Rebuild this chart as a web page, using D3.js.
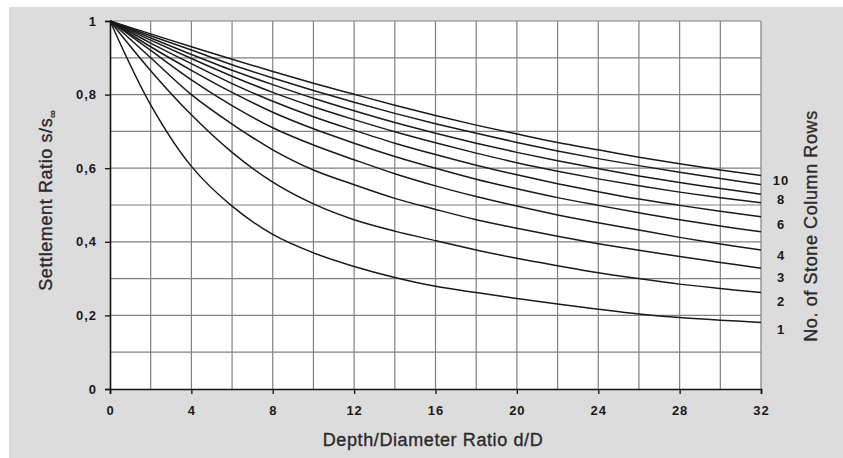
<!DOCTYPE html>
<html><head><meta charset="utf-8">
<script src="https://cdn.jsdelivr.net/npm/d3@7"></script>
<style>body{margin:0;background:#fff}svg{display:block}</style>
</head><body>
<svg id="chart" width="843" height="458"></svg>
<script>
const xValues = [0,2,4,6,8,10,12,14,16,18,20,22,24,26,28,30,32];
const rows1  = [1,0.772,0.605,0.497,0.42,0.37,0.333,0.303,0.279,0.262,0.246,0.231,0.217,0.204,0.194,0.187,0.181];
const rows2  = [1,0.865,0.745,0.643,0.562,0.503,0.46,0.429,0.403,0.378,0.355,0.335,0.316,0.300,0.285,0.273,0.262];
const rows3  = [1,0.90,0.80,0.72,0.65,0.595,0.555,0.518,0.488,0.46,0.437,0.415,0.395,0.377,0.360,0.344,0.328];
const rows4  = [1,0.92,0.84,0.77,0.71,0.663,0.623,0.585,0.552,0.523,0.497,0.473,0.452,0.432,0.412,0.394,0.378];
const rows5  = [1,0.93,0.866,0.806,0.752,0.707,0.668,0.632,0.6,0.57,0.544,0.52,0.499,0.479,0.46,0.443,0.427];
const rows6  = [1,0.94,0.884,0.83,0.782,0.74,0.703,0.668,0.637,0.608,0.582,0.558,0.536,0.516,0.499,0.483,0.468];
const rows7  = [1,0.948,0.898,0.85,0.806,0.767,0.732,0.699,0.669,0.641,0.615,0.592,0.571,0.552,0.535,0.52,0.506];
const rows8  = [1,0.954,0.909,0.866,0.827,0.79,0.756,0.724,0.695,0.668,0.643,0.62,0.599,0.579,0.561,0.545,0.529];
const rows9  = [1,0.96,0.921,0.881,0.845,0.811,0.779,0.749,0.721,0.695,0.67,0.647,0.626,0.607,0.589,0.572,0.556];
const rows10 = [1,0.965,0.93,0.896,0.863,0.831,0.801,0.771,0.743,0.717,0.693,0.67,0.65,0.63,0.612,0.595,0.58];
const seriesList = [rows1,rows2,rows3,rows4,rows5,rows6,rows7,rows8,rows9,rows10];
const xTickValues = [0,4,8,12,16,20,24,28,32];
const yTickValues = [0,0.2,0.4,0.6,0.8,1];
const yTickLabels = ["0","0,2","0,4","0,6","0,8","1"];
const rowLabels = ["10","8","6","4","3","2","1"];
const rowLabelY = [0.568,0.514,0.446,0.362,0.304,0.237,0.163];
const xTitle = "Depth/Diameter Ratio d/D";
const yTitle = "Settlement Ratio s/s";
const rightTitle = "No. of Stone Column Rows";

const svg = d3.select("#chart");
const W = 843, H = 458;
const m = {left:110, top:21, right:761, bottom:389};
svg.append("rect").attr("x",9).attr("y",7).attr("width",W-9).attr("height",H-7).attr("fill","#dcdcdd");

const x = d3.scaleLinear().domain([0,32]).range([m.left,m.right]);
const y = d3.scaleLinear().domain([0,1]).range([m.bottom,m.top]);

svg.append("rect").attr("x",m.left).attr("y",m.top).attr("width",m.right-m.left).attr("height",m.bottom-m.top).attr("fill","#fff");

const g = svg.append("g");
g.selectAll("line.vg").data(d3.range(2,33,2)).join("line")
  .attr("x1",d=>x(d)).attr("x2",d=>x(d)).attr("y1",m.top).attr("y2",m.bottom)
  .attr("stroke","#808080").attr("stroke-width",1.2);
g.selectAll("line.hg").data(d3.range(1,11).map(d=>d/10)).join("line")
  .attr("x1",m.left).attr("x2",m.right).attr("y1",d=>y(d)).attr("y2",d=>y(d))
  .attr("stroke","#808080").attr("stroke-width",1.2);

const tf = "Liberation Sans, Arial, sans-serif";
const xAxis = d3.axisBottom(x).tickValues(xTickValues).tickSize(5).tickPadding(12).tickFormat(d3.format("d"));
const yAxis = d3.axisLeft(y).tickValues(yTickValues).tickSize(5).tickPadding(8).tickFormat((d,i)=>yTickLabels[i]);
const gx = svg.append("g").attr("transform",`translate(0,${m.bottom})`).call(xAxis);
const gy = svg.append("g").attr("transform",`translate(${m.left},0)`).call(yAxis);
[gx,gy].forEach(a=>{
  a.select(".domain").attr("stroke","#111").attr("stroke-width",1.6);
  a.selectAll(".tick line").attr("stroke","#111").attr("stroke-width",1.3);
  a.selectAll(".tick text").attr("fill","#1a1a1a").style("font-family",tf).style("font-size","13px").style("font-weight","bold").style("letter-spacing","1px");
});

const line = d3.line().x((d,i)=>x(xValues[i])).y(d=>y(d)).curve(d3.curveCatmullRom.alpha(0.5));
svg.append("g").selectAll("path").data(seriesList).join("path")
  .attr("d",line).attr("fill","none").attr("stroke","#1a1a1a").attr("stroke-width",1.5);

svg.append("g").selectAll("text").data(rowLabels).join("text")
  .attr("x",781).attr("y",(d,i)=>y(rowLabelY[i])).attr("dy","0.35em").attr("text-anchor","middle")
  .style("font-family",tf).style("font-size","13px").style("font-weight","bold").style("letter-spacing","1px").attr("fill","#1a1a1a")
  .text(d=>d);

function styleTitle(t){
  return t.style("font-family",tf).style("font-size","18px").style("letter-spacing","0.6px")
    .attr("fill","#2a2a2a").attr("stroke","#2a2a2a").attr("stroke-width",0.35);
}
styleTitle(svg.append("text").attr("x",433).attr("y",446).attr("text-anchor","middle")).text(xTitle);
const yt = styleTitle(svg.append("text").attr("transform","translate(52,200) rotate(-90)").attr("text-anchor","middle"));
yt.append("tspan").text(yTitle);
yt.append("tspan").attr("dy","4").style("font-size","11px").text("∞");
styleTitle(svg.append("text").attr("transform","translate(817,226) rotate(-90)").attr("text-anchor","middle")).text(rightTitle);
</script>
</body></html>
